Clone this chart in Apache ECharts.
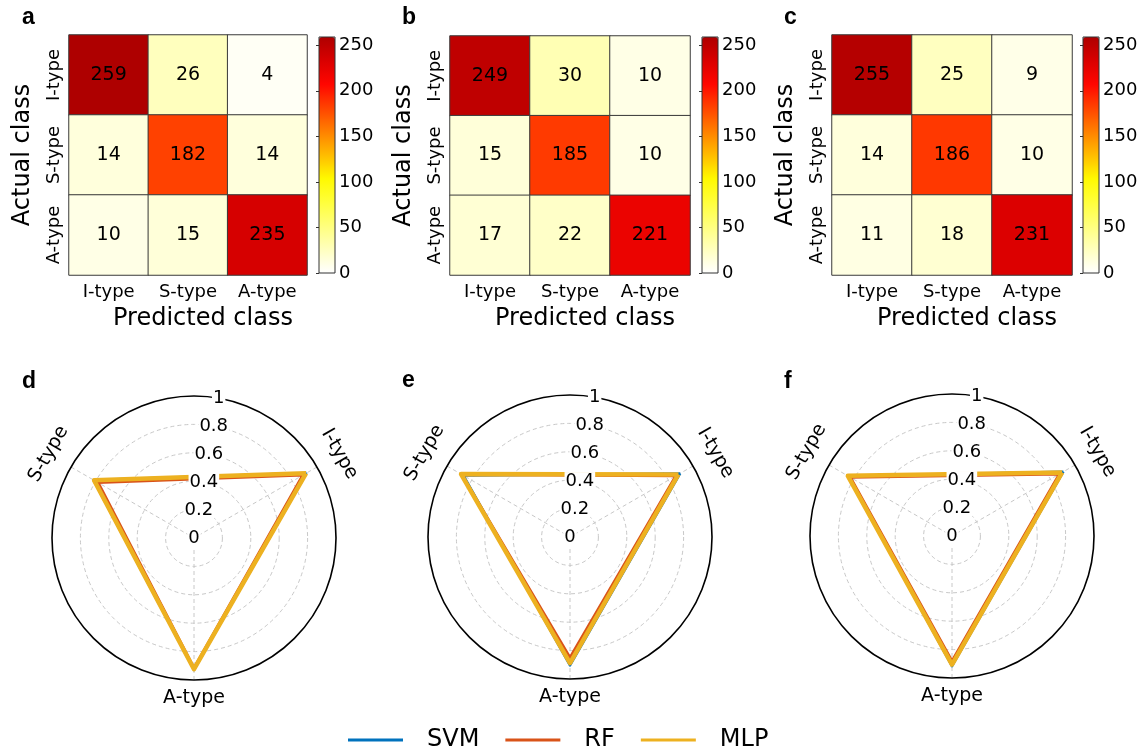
<!DOCTYPE html>
<html><head><meta charset="utf-8">
<script src="https://cdn.jsdelivr.net/npm/echarts@6/dist/echarts.min.js"></script>
<style>html,body{margin:0;padding:0;background:#fff}#c{width:1141px;height:747px}</style>
</head><body><div id="c"></div>
<script>
// ---------- data ----------
const classes = ['I-type', 'S-type', 'A-type'];
// confusion matrices: rows = actual class, columns = predicted class
const cmSVM = [[259, 26, 4], [14, 182, 14], [10, 15, 235]];
const cmRF  = [[249, 30, 10], [15, 185, 10], [17, 22, 221]];
const cmMLP = [[255, 25, 9], [14, 186, 10], [11, 18, 231]];
const colorbarTicks = [0, 50, 100, 150, 200, 250];
const colorMax = 259;
const models = ['SVM', 'RF', 'MLP'];
// radar values in order I-type, S-type, A-type
const precSVM = [0.915, 0.816, 0.929];
const precRF  = [0.886, 0.781, 0.917];
const precMLP = [0.911, 0.812, 0.924];
const recSVM  = [0.896, 0.867, 0.904];
const recRF   = [0.862, 0.881, 0.850];
const recMLP  = [0.882, 0.886, 0.888];
const f1SVM   = [0.906, 0.841, 0.916];
const f1RF    = [0.874, 0.828, 0.882];
const f1MLP   = [0.896, 0.847, 0.906];
const radialTicks = [0, 0.2, 0.4, 0.6, 0.8, 1];

// ---------- style / layout ----------
const FONT = 'DejaVu Sans';
const heatColors = ['#ffffff','#ffffbe','#ffff7c','#ffff3b','#fff900','#ffbc00','#ff8000','#ff4300','#ff0600','#d90000','#ae0000'];
const modelColors = ['#0072BD', '#D95319', '#EDB120'];
const modelWidths = [2.5, 3, 4.5];
const heatGrids = [
  {left: 69, top: 35, width: 238, height: 240},
  {left: 450, top: 36, width: 240, height: 239},
  {left: 832, top: 35, width: 240, height: 240}
];
const cbLeft = [319, 702, 1083];
const cbTop = 37, cbW = 16, cbH = 236;
const radarCenters = [[194, 538], [570, 537], [952, 536]];
const R = 142;

const matrices = [cmSVM, cmRF, cmMLP];
const radarSets = [
  [precSVM, precRF, precMLP],
  [recSVM, recRF, recMLP],
  [f1SVM, f1RF, f1MLP]
];

const grid = [], xAxis = [], yAxis = [], series = [], visualMap = [];
const polar = [], angleAxis = [], radiusAxis = [], radar = [];
const graphic = [];

for (let i = 0; i < 3; i++) {
  const g = heatGrids[i];
  grid.push({left: g.left, top: g.top, width: g.width, height: g.height});
  grid.push({left: cbLeft[i], top: cbTop, width: cbW, height: cbH, show: true,
             borderColor: '#333', borderWidth: 1, backgroundColor: 'transparent', z: 10});
  xAxis.push({
    gridIndex: 2 * i, type: 'category', data: classes,
    axisLine: {show: false}, axisTick: {show: false}, splitLine: {show: false},
    axisLabel: {interval: 0, fontSize: 18, fontFamily: FONT, color: '#000', margin: 8},
    name: 'Predicted class', nameLocation: 'middle', nameGap: 32,
    nameTextStyle: {fontSize: 24, fontFamily: FONT, color: '#000', padding: [0, 0, 0, 30]}
  });
  xAxis.push({gridIndex: 2 * i + 1, type: 'value', show: false});
  yAxis.push({
    gridIndex: 2 * i, type: 'category', data: classes, inverse: true,
    axisLine: {show: false}, axisTick: {show: false}, splitLine: {show: false},
    axisLabel: {interval: 0, rotate: 90, fontSize: 18, fontFamily: FONT, color: '#000', margin: 6},
    name: 'Actual class', nameLocation: 'middle', nameGap: 34,
    nameTextStyle: {fontSize: 24, fontFamily: FONT, color: '#000'}
  });
  yAxis.push({
    gridIndex: 2 * i + 1, type: 'value', min: 0, max: colorMax, interval: 50, position: 'right',
    axisLine: {show: false}, splitLine: {show: false},
    axisTick: {show: true, inside: true, length: 3, lineStyle: {color: '#333'}},
    axisLabel: {fontSize: 18, fontFamily: FONT, color: '#000', margin: 4, showMaxLabel: false,
                formatter: v => colorbarTicks.indexOf(v) >= 0 ? String(v) : ''}
  });
  const m = matrices[i];
  const data = [];
  for (let r = 0; r < 3; r++) for (let c = 0; c < 3; c++) data.push([c, r, m[r][c]]);
  series.push({
    type: 'heatmap', xAxisIndex: 2 * i, yAxisIndex: 2 * i, data: data,
    label: {show: true, fontSize: 19, fontFamily: FONT, color: '#000'},
    itemStyle: {borderColor: '#3a3a3a', borderWidth: 1},
    emphasis: {disabled: true}
  });
  visualMap.push({
    type: 'continuous', seriesIndex: i, min: 0, max: colorMax, calculable: false,
    orient: 'vertical', left: cbLeft[i], top: cbTop, itemWidth: cbW, itemHeight: cbH,
    padding: 0, inRange: {color: heatColors}, hoverLink: false
  });
}

const letters = ['a', 'b', 'c', 'd', 'e', 'f'];
const letterPos = [[22, 18], [402, 18], [784, 18], [22, 382], [402, 381], [784, 382]];
letters.forEach((t, k) => graphic.push({
  type: 'text', x: letterPos[k][0], y: letterPos[k][1],
  style: {text: t, font: 'bold 23px "Liberation Sans"', fill: '#000',
          textAlign: 'left', textVerticalAlign: 'middle', align: 'left', verticalAlign: 'middle'}
}));

const labelAngles = [30, 150, 270];
const labelRadii = [168, 168, 160];
const labelRot = [-Math.PI / 3, Math.PI / 3, 0];

for (let i = 0; i < 3; i++) {
  const [cx, cy] = radarCenters[i];
  polar.push({center: [cx, cy], radius: R});
  polar.push({center: [cx, cy], radius: R});
  angleAxis.push({
    polarIndex: 2 * i, type: 'value', min: 0, max: 360, interval: 120, startAngle: 30, clockwise: false,
    axisLine: {show: true, lineStyle: {color: '#000', width: 1.6}},
    axisTick: {show: false}, axisLabel: {show: false},
    splitLine: {show: true, lineStyle: {color: '#c8c8c8', width: 1, type: [4, 3]}}
  });
  angleAxis.push({polarIndex: 2 * i + 1, type: 'value', min: 0, max: 360, startAngle: 80, show: false});
  radiusAxis.push({
    polarIndex: 2 * i, type: 'value', min: 0, max: 1, interval: 0.2,
    axisLine: {show: false}, axisTick: {show: false}, axisLabel: {show: false},
    splitLine: {show: true, lineStyle: {color: ['#c8c8c8','#c8c8c8','#c8c8c8','#c8c8c8','#c8c8c8','rgba(0,0,0,0)'], width: 1, type: [4, 3]}}
  });
  radiusAxis.push({
    polarIndex: 2 * i + 1, type: 'value', min: 0, max: 1, interval: 0.2, z: 10,
    axisLine: {show: false}, axisTick: {show: false}, splitLine: {show: false},
    axisLabel: {show: true, fontSize: 18, fontFamily: FONT, color: '#000', margin: 0,
                align: 'center', verticalAlign: 'middle', backgroundColor: '#fff', padding: [0, 1],
                formatter: v => radialTicks.indexOf(+v.toFixed(1)) >= 0 ? String(+v.toFixed(1)) : ''}
  });
  radar.push({
    center: [cx, cy], radius: R, startAngle: 30, shape: 'circle', splitNumber: 5,
    indicator: classes.map(n => ({name: n, min: 0, max: 1})),
    axisName: {show: false}, axisLine: {show: false}, splitLine: {show: false},
    splitArea: {show: false}, axisTick: {show: false}, axisLabel: {show: false}
  });
  for (let k = 0; k < 3; k++) {
    series.push({
      type: 'radar', radarIndex: i, name: models[k], symbol: 'none', silent: true,
      lineStyle: {color: modelColors[k], width: modelWidths[k]},
      itemStyle: {color: modelColors[k]},
      data: [{value: radarSets[i][k], name: models[k]}]
    });
  }
  for (let j = 0; j < 3; j++) {
    const a = labelAngles[j] * Math.PI / 180;
    graphic.push({
      type: 'text', x: cx + labelRadii[j] * Math.cos(a), y: cy - labelRadii[j] * Math.sin(a),
      rotation: labelRot[j],
      style: {text: classes[j], font: '19px "DejaVu Sans"', fill: '#000',
              textAlign: 'center', textVerticalAlign: 'middle', align: 'center', verticalAlign: 'middle'}
    });
  }
}

const chart = echarts.init(document.getElementById('c'), null, {renderer: 'canvas'});
chart.setOption({
  animation: false,
  backgroundColor: '#fff',
  grid, xAxis, yAxis, visualMap, polar, angleAxis, radiusAxis, radar, series, graphic,
  legend: {
    data: models, left: 343, top: 723, icon: 'rect', itemWidth: 55, itemHeight: 3, itemGap: 26,
    itemStyle: {borderWidth: 0},
    textStyle: {fontSize: 24, fontFamily: FONT, color: '#000', padding: [0, 0, 0, 19]}
  }
});
</script></body></html>
